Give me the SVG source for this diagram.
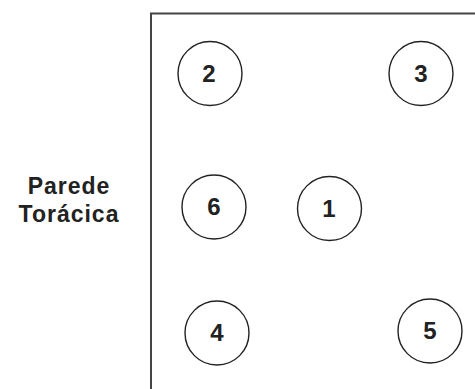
<svg xmlns="http://www.w3.org/2000/svg" width="475" height="389" viewBox="0 0 475 389">
<style>
.frame{fill:none;stroke:#444;stroke-width:2}
.node circle{fill:#fff;stroke:#222;stroke-width:1.4}
.node text{font-family:"Liberation Sans",Arial,sans-serif;font-weight:bold;font-size:24px;fill:#222;text-anchor:middle}
.lbl{font-family:"Liberation Sans",Arial,sans-serif;font-weight:bold;font-size:23px;fill:#222;text-anchor:middle;letter-spacing:1px}
</style>
<rect width="475" height="389" fill="#fff"/>
<path class="frame" d="M151,389 V13.5 H475"/>
<text class="lbl" x="69" y="194">Parede</text>
<text class="lbl" x="69" y="222">Torácica</text>
<g id="connectors"></g>
<g id="n2" class="node"><circle cx="210" cy="73.5" r="32"/><text x="209" y="81.5">2</text></g>
<g id="n3" class="node"><circle cx="421" cy="73.5" r="32"/><text x="421" y="81.5">3</text></g>
<g id="n6" class="node"><circle cx="214" cy="207" r="32"/><text x="214" y="215">6</text></g>
<g id="n1" class="node"><circle cx="329.5" cy="208.5" r="32"/><text x="329" y="216.5">1</text></g>
<g id="n4" class="node"><circle cx="217" cy="333" r="32"/><text x="217" y="341">4</text></g>
<g id="n5" class="node"><circle cx="430" cy="331" r="32"/><text x="430" y="339">5</text></g>
</svg>
